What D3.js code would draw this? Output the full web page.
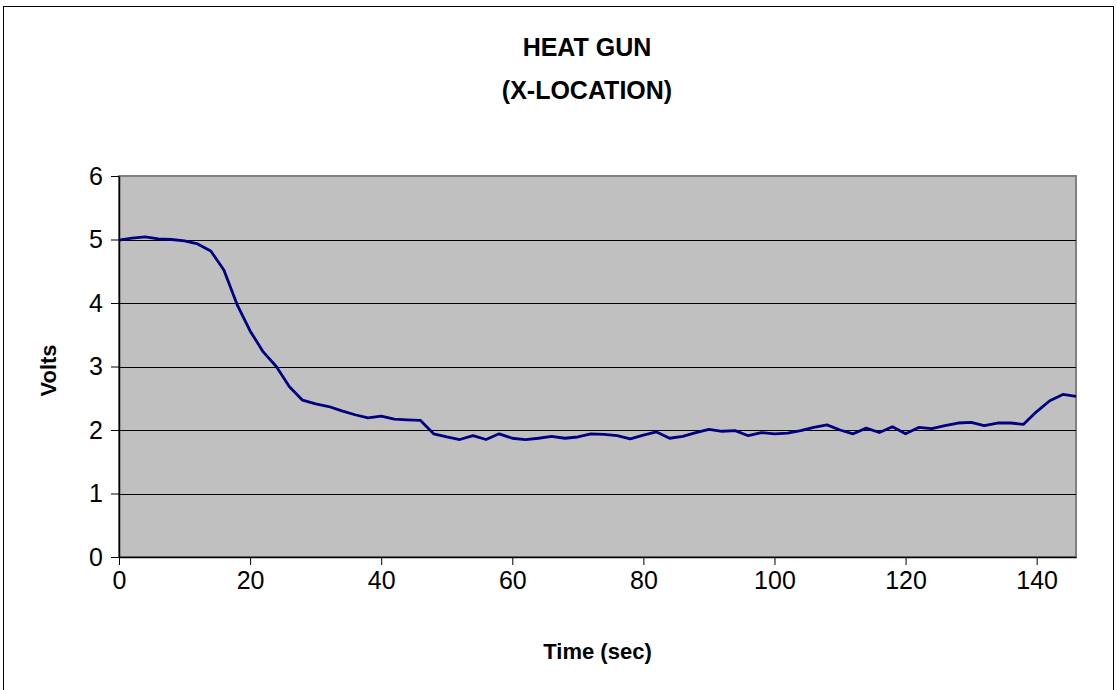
<!DOCTYPE html>
<html>
<head>
<meta charset="utf-8">
<script src="https://cdn.jsdelivr.net/npm/d3@7"></script>
<style>
  html, body { margin: 0; padding: 0; background: #fff; }
  svg { display: block; }
</style>
</head>
<body>
<div id="chart"></div>
<script>
// ---- data ----
const times = [
  0, 2, 4, 6, 8, 10, 12, 14, 16, 18,
  20, 22, 24, 26, 28, 30, 32, 34, 36, 38,
  40, 42, 44, 46, 48, 50, 52, 54, 56, 58,
  60, 62, 64, 66, 68, 70, 72, 74, 76, 78,
  80, 82, 84, 86, 88, 90, 92, 94, 96, 98,
  100, 102, 104, 106, 108, 110, 112, 114, 116, 118,
  120, 122, 124, 126, 128, 130, 132, 134, 136, 138,
  140, 142, 144, 146
];
const volts = [
  4.99, 5.02, 5.04, 5.01, 5.00, 4.98, 4.93, 4.82, 4.52, 3.98,
  3.56, 3.23, 3.00, 2.68, 2.47, 2.41, 2.37, 2.30, 2.24, 2.19,
  2.22, 2.17, 2.16, 2.15, 1.94, 1.89, 1.85, 1.91, 1.85, 1.94,
  1.87, 1.85, 1.87, 1.90, 1.87, 1.89, 1.94, 1.93, 1.91, 1.86,
  1.92, 1.97, 1.87, 1.90, 1.96, 2.01, 1.98, 1.99, 1.91, 1.96,
  1.94, 1.95, 1.99, 2.04, 2.08, 2.00, 1.94, 2.03, 1.96, 2.05,
  1.94, 2.04, 2.02, 2.07, 2.11, 2.12, 2.07, 2.11, 2.11, 2.09,
  2.29, 2.46, 2.56, 2.53
];
const xTicks = [0, 20, 40, 60, 80, 100, 120, 140];
const yTicks = [0, 1, 2, 3, 4, 5, 6];

const W = 1117, H = 690;
const plot = { left: 119, right: 1076, top: 176, bottom: 557 };
const font = "'Liberation Sans', Arial, sans-serif";

const svg = d3.select("#chart").append("svg")
  .attr("width", W).attr("height", H);

// outer chart frame (runs off the bottom edge)
svg.append("rect")
  .attr("x", 3.5).attr("y", 6.5)
  .attr("width", 1110).attr("height", 700)
  .attr("fill", "#fff").attr("stroke", "#000").attr("stroke-width", 1);

const x = d3.scaleLinear().domain([0, 146]).range([plot.left, plot.right]);
const y = d3.scaleLinear().domain([0, 6]).range([plot.bottom, plot.top]);

// plot area
svg.append("rect")
  .attr("x", plot.left).attr("y", plot.top)
  .attr("width", plot.right - plot.left).attr("height", plot.bottom - plot.top)
  .attr("fill", "#c0c0c0").attr("stroke", "#808080").attr("stroke-width", 2);

// gridlines
svg.append("g").selectAll("line").data(yTicks.filter(d => d > 0 && d < 6)).join("line")
  .attr("x1", plot.left).attr("x2", plot.right)
  .attr("y1", d => Math.round(y(d)) + 0.5).attr("y2", d => Math.round(y(d)) + 0.5)
  .attr("stroke", "#000").attr("stroke-width", 1);

// axes
const yAxis = svg.append("g")
  .attr("transform", `translate(${plot.left},0)`)
  .call(d3.axisLeft(y).tickValues(yTicks).tickSize(8).tickSizeOuter(0)
    .tickPadding(8).tickFormat(d3.format("d")));
const xAxis = svg.append("g")
  .attr("transform", `translate(0,${plot.bottom})`)
  .call(d3.axisBottom(x).tickValues(xTicks).tickSize(8).tickSizeOuter(0)
    .tickPadding(6).tickFormat(d3.format("d")));

[xAxis, yAxis].forEach(a => {
  a.select(".domain").attr("stroke", "#000").attr("stroke-width", 1.5);
  a.selectAll(".tick line").attr("stroke", "#000");
  a.selectAll(".tick text")
    .style("font-family", font).style("font-size", "25px").attr("fill", "#000");
});

// series
const pts = times.map((t, i) => [t, volts[i]]);
svg.append("path")
  .datum(pts)
  .attr("fill", "none").attr("stroke", "#000080").attr("stroke-width", 2.8)
  .attr("stroke-linejoin", "round")
  .attr("d", d3.line().x(d => x(d[0])).y(d => y(d[1])));

// titles
const tx = 587;
const title = svg.append("text")
  .attr("text-anchor", "middle")
  .style("font-family", font).style("font-size", "25px").style("font-weight", "bold");
title.append("tspan").attr("x", tx).attr("y", 56).text("HEAT GUN");
title.append("tspan").attr("x", tx).attr("y", 99).text("(X-LOCATION)");

svg.append("text")
  .attr("x", (plot.left + plot.right) / 2).attr("y", 659)
  .attr("text-anchor", "middle")
  .style("font-family", font).style("font-size", "22px").style("font-weight", "bold")
  .text("Time (sec)");

svg.append("text")
  .attr("transform", `translate(56,${(plot.top + plot.bottom) / 2 + 4}) rotate(-90)`)
  .attr("text-anchor", "middle")
  .style("font-family", font).style("font-size", "22px").style("font-weight", "bold")
  .text("Volts");
</script>
</body>
</html>
